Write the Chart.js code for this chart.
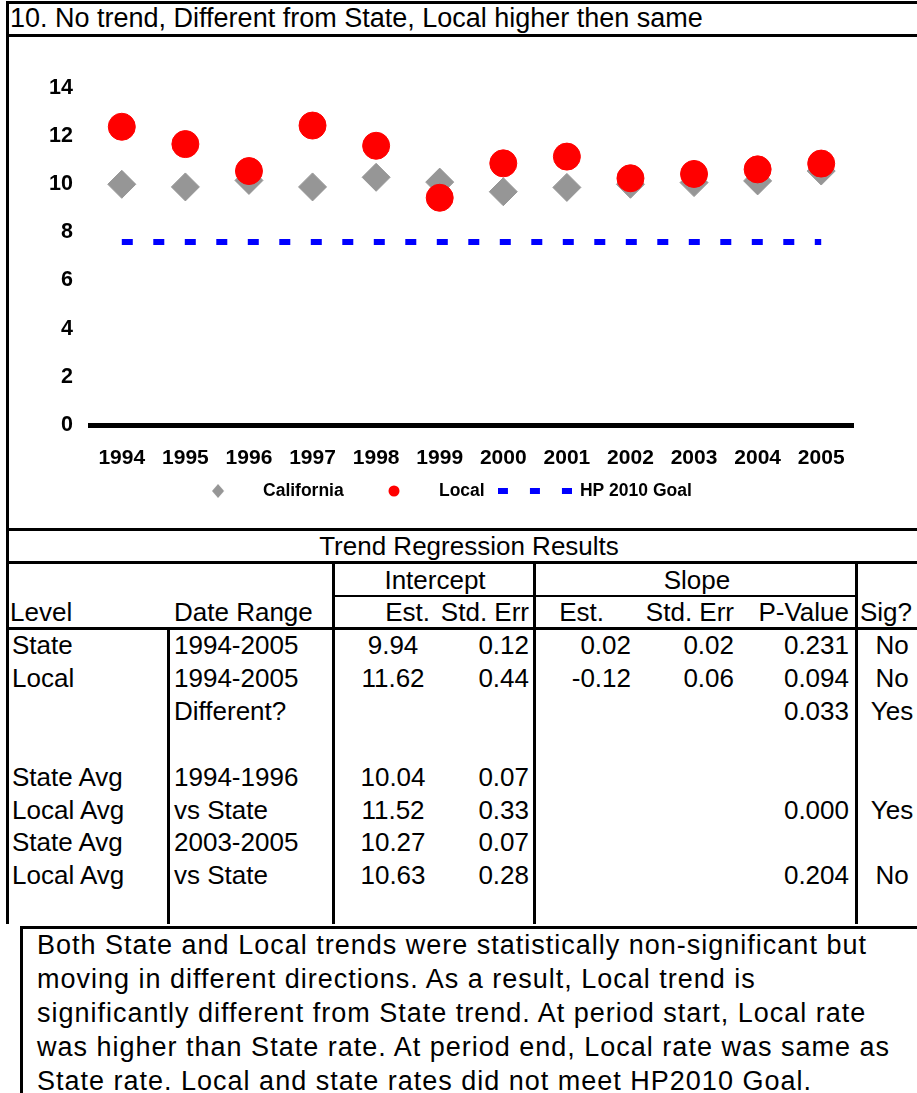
<!DOCTYPE html>
<html>
<head>
<meta charset="utf-8">
<script src="https://cdn.jsdelivr.net/npm/chart.js@4.4.0/dist/chart.umd.min.js"></script>
<style>
    body { margin: 0; background: #fff; }
    #page {
        position: relative;
        width: 917px;
        height: 1093px;
        overflow: hidden;
        font-family: "Liberation Sans", Arial, sans-serif;
        color: #000;
    }
    #chart-container {
        position: absolute;
        left: 0;
        top: 37px;
        width: 917px;
        height: 491px;
    }
    .ln { position: absolute; background: #000; }
    .tx {
        position: absolute;
        white-space: nowrap;
        font-size: 26px;
        line-height: 34px;
        height: 34px;
    }
    #note {
        position: absolute;
        left: 37px;
        top: 928px;
        font-size: 27px;
        letter-spacing: 1px;
        line-height: 34px;
        white-space: nowrap;
    }
</style>
</head>
<body>
<div id="page">
    <div id="chart-container">
        <canvas id="rateChart"></canvas>
    </div>
    <div id="note">Both State and Local trends were statistically non-significant but<br>moving in different directions. As a result, Local trend is<br>significantly different from State trend. At period start, Local rate<br>was higher than State rate. At period end, Local rate was same as<br>State rate. Local and state rates did not meet HP2010 Goal.</div>
</div>
<script>
    // chart data
    const years = ['1994', '1995', '1996', '1997', '1998', '1999', '2000', '2001', '2002', '2003', '2004', '2005'];
    const california = [10.00, 9.89, 10.16, 9.89, 10.29, 10.09, 9.69, 9.87, 10.00, 10.07, 10.14, 10.55];
    const local = [12.39, 11.67, 10.55, 12.44, 11.60, 9.44, 10.87, 11.15, 10.25, 10.43, 10.62, 10.86];
    const hpGoal = [7.6, 7.6, 7.6, 7.6, 7.6, 7.6, 7.6, 7.6, 7.6, 7.6, 7.6, 7.6];
    const yMin = 0, yMax = 14, yStep = 2;

    // regression table
    const tableHead1 = [['Intercept', 435, 'c'], ['Slope', 697, 'c']];
    const tableHead2 = [['Level', 10, 'l'], ['Date Range', 174, 'l'], ['Est.', 430, 'r'], ['Std. Err', 529, 'r'],
                        ['Est.', 604, 'r'], ['Std. Err', 734, 'r'], ['P-Value', 849, 'r'], ['Sig?', 860, 'l']];
    const tableRows = [
        ['State', '1994-2005', '9.94', '0.12', '0.02', '0.02', '0.231', 'No'],
        ['Local', '1994-2005', '11.62', '0.44', '-0.12', '0.06', '0.094', 'No'],
        ['', 'Different?', '', '', '', '', '0.033', 'Yes'],
        ['', '', '', '', '', '', '', ''],
        ['State Avg', '1994-1996', '10.04', '0.07', '', '', '', ''],
        ['Local Avg', 'vs State', '11.52', '0.33', '', '', '0.000', 'Yes'],
        ['State Avg', '2003-2005', '10.27', '0.07', '', '', '', ''],
        ['Local Avg', 'vs State', '10.63', '0.28', '', '', '0.204', 'No']
    ];
    const tableCols = [[12, 'l'], [174, 'l'], [393, 'c'], [529, 'r'], [631, 'r'], [734, 'r'], [849, 'r'], [892, 'c']];

    const page = document.getElementById('page');

    function put(text, x, cy, align, size) {
        if (!text) return;
        const d = document.createElement('div');
        d.className = 'tx';
        d.textContent = text;
        d.style.left = x + 'px';
        d.style.top = (cy - 17) + 'px';
        if (align === 'r') d.style.transform = 'translateX(-100%)';
        if (align === 'c') d.style.transform = 'translateX(-50%)';
        if (size) d.style.fontSize = size + 'px';
        page.appendChild(d);
    }

    function rule(x, y, w, h) {
        const d = document.createElement('div');
        d.className = 'ln';
        d.style.left = x + 'px';
        d.style.top = y + 'px';
        d.style.width = w + 'px';
        d.style.height = h + 'px';
        page.appendChild(d);
    }

    put('10. No trend, Different from State, Local higher then same', 10, 18, 'l', 27);
    put('Trend Regression Results', 469, 546, 'c');
    tableHead1.forEach(h => put(h[0], h[1], 580, h[2]));
    tableHead2.forEach(h => put(h[0], h[1], 612, h[2]));
    tableRows.forEach((row, i) => {
        row.forEach((cell, j) => put(cell, tableCols[j][0], 645 + i * 32.9, tableCols[j][1]));
    });

    // frame and grid lines
    rule(6, 1, 911, 3);
    rule(6, 1, 3, 923);
    rule(6, 34, 911, 3);
    rule(6, 528, 911, 3);
    rule(6, 561, 911, 3);
    rule(333, 595, 524, 2);
    rule(6, 627, 911, 3);
    rule(167, 627, 3, 297);
    rule(332, 563, 3, 361);
    rule(533, 563, 3, 361);
    rule(855, 563, 3, 361);
    rule(20, 926, 897, 3);
    rule(20, 926, 3, 167);

    // legend symbols
    function symbol(w, h, draw) {
        const c = document.createElement('canvas');
        c.width = w;
        c.height = h;
        draw(c.getContext('2d'));
        return c;
    }
    const diamondSym = symbol(14, 14, g => {
        g.fillStyle = '#969696';
        g.beginPath();
        g.moveTo(7, 0); g.lineTo(13, 7); g.lineTo(7, 14); g.lineTo(1, 7);
        g.closePath();
        g.fill();
    });
    const circleSym = symbol(12, 12, g => {
        g.fillStyle = '#ff0000';
        g.beginPath();
        g.arc(6, 6, 5.5, 0, Math.PI * 2);
        g.fill();
    });
    const dashSym = symbol(74, 6, g => {
        g.fillStyle = '#0000ff';
        g.fillRect(0, 0, 10, 6);
        g.fillRect(32, 0, 10, 6);
        g.fillRect(64, 0, 10, 6);
    });
    const legendSyms = [diamondSym, circleSym, dashSym];

    const xTickFont = { family: 'Liberation Sans', weight: 'bold', size: 21 };
    const yTickFont = { family: 'Liberation Sans', weight: 'bold', size: 21.5 };

    const ctx = document.getElementById('rateChart').getContext('2d');
    const rateChart = new Chart(ctx, {
        type: 'line',
        data: {
            labels: years,
            datasets: [
                {
                    label: 'California',
                    data: california,
                    showLine: false,
                    pointStyle: 'rectRot',
                    pointRadius: 14,
                    pointBackgroundColor: '#969696',
                    pointBorderColor: '#969696',
                    pointBorderWidth: 1,
                    order: 1
                },
                {
                    label: 'Local',
                    data: local,
                    showLine: false,
                    pointStyle: 'circle',
                    pointRadius: 13.5,
                    pointBackgroundColor: '#ff0000',
                    pointBorderColor: '#ff0000',
                    pointBorderWidth: 1,
                    order: 0
                },
                {
                    label: 'HP 2010 Goal',
                    data: hpGoal,
                    borderColor: '#0000ff',
                    borderWidth: 6,
                    borderDash: [11, 20.5],
                    borderCapStyle: 'butt',
                    pointRadius: 0,
                    fill: false,
                    order: 2
                }
            ]
        },
        options: {
            responsive: true,
            maintainAspectRatio: false,
            animation: false,
            events: [],
            layout: {
                padding: { top: 51, left: 20.55, right: 64, bottom: 18.25 }
            },
            plugins: {
                legend: {
                    position: 'bottom',
                    labels: {
                        usePointStyle: true,
                        pointStyleWidth: 72.5,
                        padding: 14,
                        color: '#000',
                        font: { family: 'Liberation Sans', weight: 'bold', size: 17.5 },
                        sort: (a, b) => a.datasetIndex - b.datasetIndex,
                        generateLabels: function (chart) {
                            const items = Chart.defaults.plugins.legend.labels.generateLabels(chart);
                            items.forEach(item => {
                                item.pointStyle = legendSyms[item.datasetIndex];
                                item.lineDash = [];
                            });
                            return items;
                        }
                    }
                },
                tooltip: { enabled: false }
            },
            scales: {
                x: {
                    offset: true,
                    grid: { display: false, drawTicks: false },
                    border: { display: true, color: '#000', width: 5 },
                    ticks: { color: '#000', font: xTickFont, padding: 20.4, maxRotation: 0, autoSkip: false },
                    afterFit: function (scale) { scale.height = 43.25; }
                },
                y: {
                    min: yMin,
                    max: yMax,
                    grid: { display: false, drawTicks: false },
                    border: { display: false },
                    ticks: { stepSize: yStep, color: '#000', font: yTickFont, padding: 17 },
                    afterFit: function (scale) { scale.width = 69.45; }
                }
            }
        }
    });
</script>
</body>
</html>
